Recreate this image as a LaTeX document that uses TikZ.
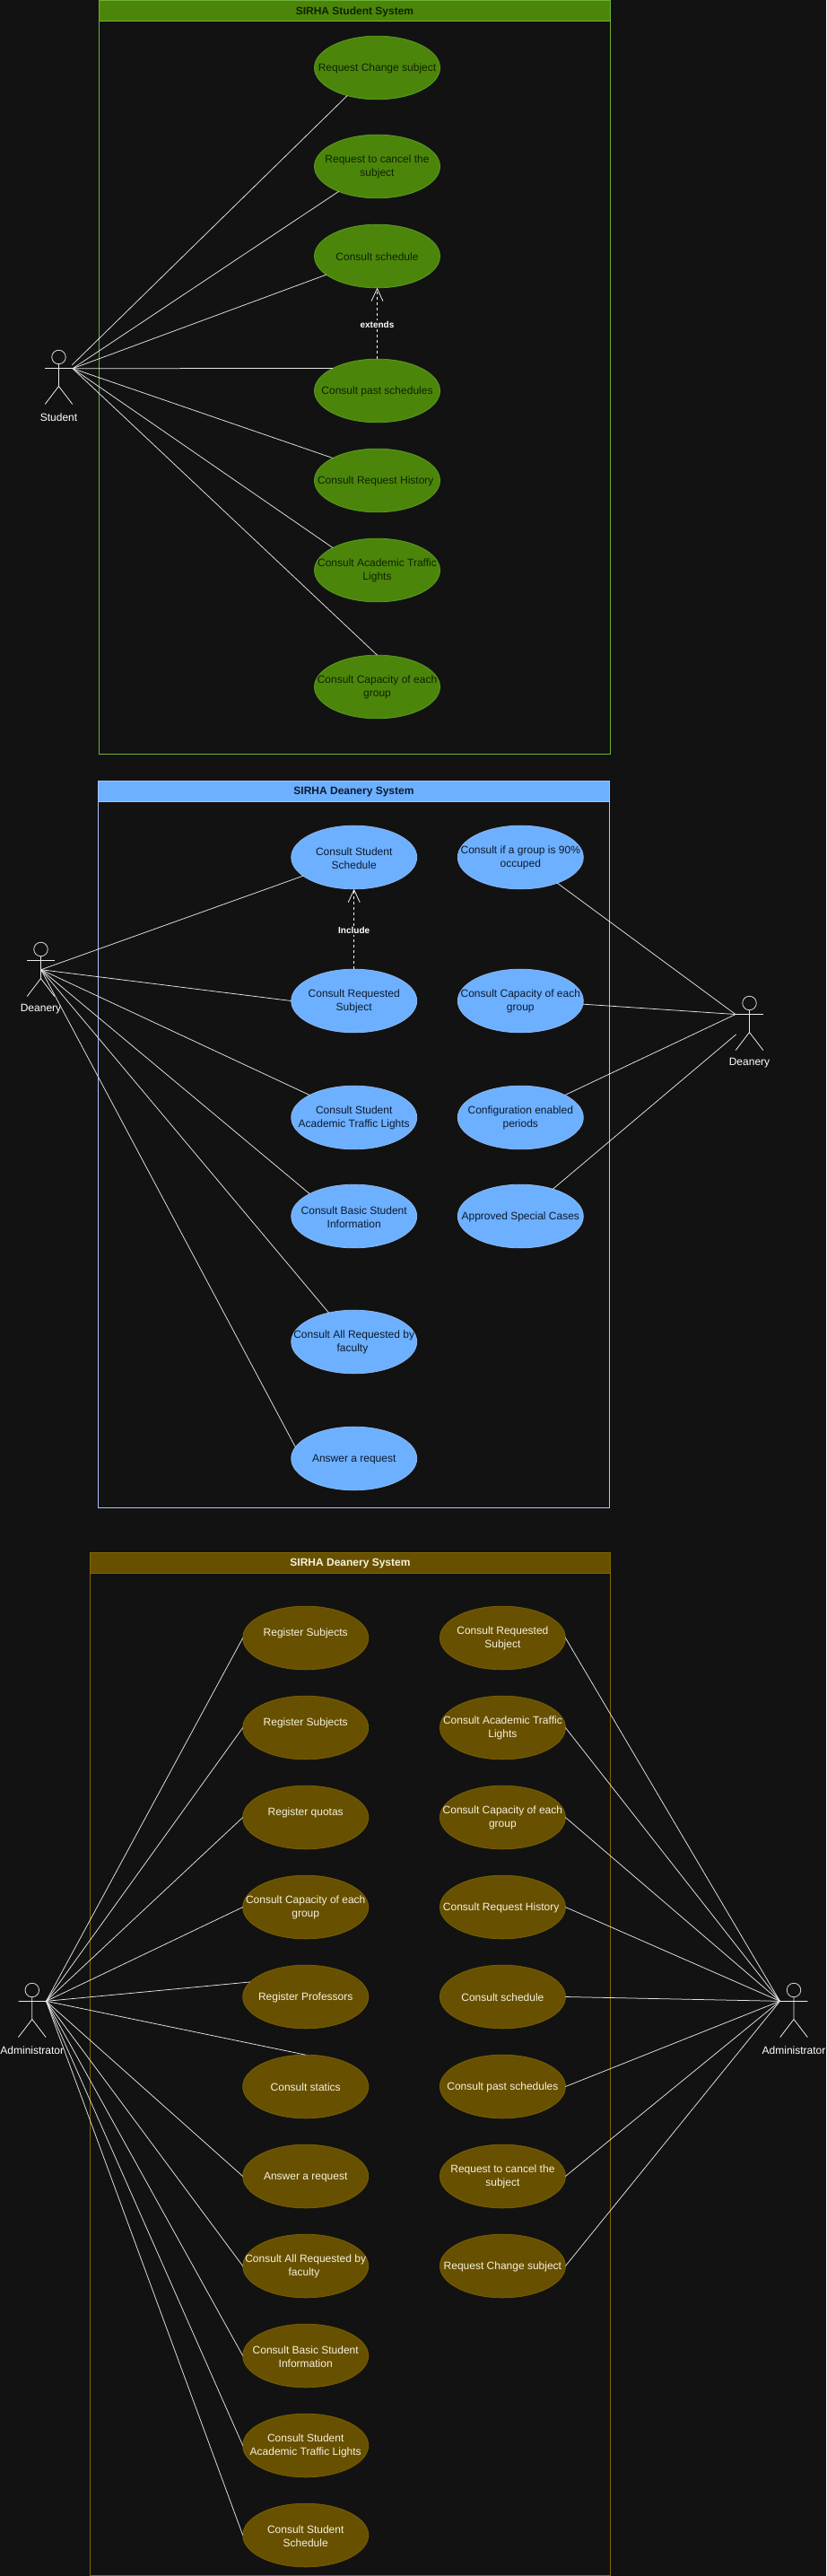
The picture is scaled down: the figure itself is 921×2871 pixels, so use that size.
\documentclass[tikz,border=0pt]{standalone}
\usepackage{fontspec}
\setmainfont{Liberation Sans}
\usetikzlibrary{shapes.geometric,arrows.meta}
\definecolor{bgc}{HTML}{121212}
\definecolor{gfill}{HTML}{4B860B}
\definecolor{gline}{HTML}{6FB13A}
\definecolor{gedge}{HTML}{5C9A22}
\definecolor{gtext}{HTML}{112200}
\definecolor{bfill}{HTML}{6CB0FF}
\definecolor{bline}{HTML}{A6C6FF}
\definecolor{bedge}{HTML}{8CB8F2}
\definecolor{btext}{HTML}{0E1A2E}
\definecolor{yfill}{HTML}{675000}
\definecolor{yline}{HTML}{836700}
\definecolor{yedge}{HTML}{7A6000}
\definecolor{ytext}{HTML}{F7F2DC}
\tikzset{
  x=1pt,y=-1pt,
  every node/.style={font=\fontsize{12}{14.9}\selectfont,inner sep=0pt,outer sep=0pt},
  usecase/.style={ellipse,draw,line width=.8pt,minimum width=140pt,minimum height=70.67pt},
  casetext/.style={align=center,yshift=-.8pt},
  greencase/.style={usecase,fill=gfill,draw=gedge},
  bluecase/.style={usecase,fill=bfill,draw=bedge},
  browncase/.style={usecase,fill=yfill,draw=yedge},
  greenframe/.style={draw=gline,line width=1pt},
  blueframe/.style={draw=bline,line width=1pt},
  brownframe/.style={draw=yline,line width=1pt},
  headtext/.style={font=\bfseries\fontsize{12}{14.9}\selectfont},
  assoc/.style={draw=white!90!black,line width=.75pt},
  dep/.style={draw=white,line width=.8pt,dash pattern=on 3pt off 3pt,-{Straight Barb[length=14pt,width=13pt,line width=.7pt]}},
  deplabel/.style={font=\bfseries\fontsize{10}{12}\selectfont,text=white,fill=bgc,inner ysep=1pt},
  actorline/.style={draw=white!92!black,line width=.8pt},
  actorhead/.style={circle,draw=white!85!black,line width=.8pt,minimum size=15.5pt},
  actorname/.style={text=white},
}
\newcommand{\uc}[6]{% style, name, x, y, text colour, text
  \node[#1,label={[casetext,text=#5]center:{#6}}] (#2) at (#3,#4) {};}
\newcommand{\actorfig}[4]{% name, cx, top, label
  \node[actorhead] (#1head) at (#2,#3+7.5) {};
  \coordinate (#1hip) at (#2,#3+40);
  \coordinate (#1armL) at (#2-15.3,#3+20);
  \coordinate (#1armR) at (#2+15.3,#3+20);
  \coordinate (#1footL) at (#2-15.3,#3+60);
  \coordinate (#1footR) at (#2+15.3,#3+60);
  \draw[actorline] (#1head) -- (#1hip) (#1armL) -- (#1armR) (#1footL) -- (#1hip) -- (#1footR);
  \node[actorname] (#1name) at (#2,#3+74.5) {#4};}
\begin{document}
\begin{tikzpicture}
\useasboundingbox (0,0) rectangle (921,2871);
\fill[bgc] (0,0) rectangle (921,2871);

% ---------- Student ----------
\path[greenframe] (110.3,0.5) rectangle (680.4,840.3);
\path[greenframe,fill=gfill] (110.3,0.5) rectangle (680.4,23.7);
\node[headtext,text=gtext] (t1) at (395.5,13) {SIRHA Student System};
\uc{greencase}{sa}{420.5}{75.5}{gtext}{Request Change subject}
\uc{greencase}{sb}{420.5}{185.5}{gtext}{Request to cancel the\\subject}
\uc{greencase}{sc}{420.5}{285.5}{gtext}{Consult schedule}
\uc{greencase}{sd}{420.5}{435.5}{gtext}{Consult past schedules}
\uc{greencase}{se}{420.5}{535.5}{gtext}{Consult Request History\kern3.5pt}
\uc{greencase}{sf}{420.5}{635.5}{gtext}{Consult Academic Traffic\\Lights}
\uc{greencase}{sg}{420.5}{765.5}{gtext}{Consult Capacity of each\\group}
\actorfig{st}{65.5}{390.5}{Student}
\coordinate (stA) at (81,410.7);
\coordinate (stB) at (80.4,406.7);
\draw[assoc] (stB) -- (sa.223.8);
\draw[assoc] (stA) -- (sb.213);
\draw[assoc] (stA) -- (sc.200.5);
\draw[assoc] (stA) -- (sd.north west);
\draw[assoc] (stA) -- (se.north west);
\draw[assoc] (stA) -- (sf.north west);
\draw[assoc] (stA) -- (sg.north);
\draw[dep] (sd.north) -- node[pos=.485,deplabel] (l1) {extends} (sc.south);

% ---------- Deanery ----------
\path[blueframe] (109.4,870.3) rectangle (679.5,1680.3);
\path[blueframe,fill=bfill] (109.4,870.3) rectangle (679.5,893.7);
\node[headtext,text=btext] (t2) at (394.5,883) {SIRHA Deanery System};
\uc{bluecase}{da}{394.7}{955.5}{btext}{Consult Student\\Schedule}
\uc{bluecase}{db}{394.7}{1115.5}{btext}{Consult Requested\\Subject}
\uc{bluecase}{dc}{394.7}{1245.5}{btext}{Consult Student\\Academic Traffic Lights}
\uc{bluecase}{dd}{394.7}{1355.5}{btext}{Consult Basic Student\\Information}
\uc{bluecase}{de}{394.7}{1495.5}{btext}{Consult All Requested by\\faculty\kern3.5pt}
\uc{bluecase}{df}{394.7}{1625.5}{btext}{Answer a request}
\uc{bluecase}{dg}{580.3}{955.5}{btext}{Consult if a group is 90\%\\occuped}
\uc{bluecase}{dh}{580.3}{1115.5}{btext}{Consult Capacity of each\\group}
\uc{bluecase}{di}{580.3}{1245.5}{btext}{Configuration enabled\\periods}
\uc{bluecase}{dj}{580.3}{1355.5}{btext}{Approved Special Cases}
\actorfig{dl}{45.5}{1050.5}{Deanery}
\actorfig{dr}{835.5}{1110.5}{Deanery}
\coordinate (dlA) at (45.8,1080.7);
\coordinate (drA) at (820,1130.5);
\coordinate (drB) at (820.5,1153);
\draw[assoc] (dlA) -- (da.200.2);
\draw[assoc] (dlA) -- (db.west);
\draw[assoc] (dlA) -- (dc.north west);
\draw[assoc] (dlA) -- (dd.north west);
\draw[assoc] (dlA) -- (de.131.2);
\draw[assoc] (dlA) -- (df.169.2);
\draw[assoc] (drA) -- (dg.-35.4);
\draw[assoc] (drA) -- (dh.-3.7);
\draw[assoc] (drA) -- (di.north east);
\draw[assoc] (drB) -- (dj.40.6);
\draw[dep] (db.north) -- node[pos=.48,deplabel] (l2) {Include} (da.south);

% ---------- Administrator ----------
\path[brownframe] (100.4,1730.3) rectangle (680.2,2870.4);
\path[brownframe,fill=yfill] (100.4,1730.3) rectangle (680.2,1753.6);
\node[headtext,text=ytext] (t3) at (390.5,1743) {SIRHA Deanery System};
\uc{browncase}{aa}{340.7}{1825.5}{ytext}{Register Subjects\\\mbox{}}
\uc{browncase}{ab}{340.7}{1925.5}{ytext}{Register Subjects\\\mbox{}}
\uc{browncase}{ac}{340.7}{2025.5}{ytext}{Register quotas\\\mbox{}}
\uc{browncase}{ad}{340.7}{2125.5}{ytext}{Consult Capacity of each\\group}
\uc{browncase}{ae}{340.7}{2225.5}{ytext}{Register Professors}
\uc{browncase}{af}{340.7}{2325.5}{ytext}{Consult statics}
\uc{browncase}{ag}{340.7}{2425.5}{ytext}{Answer a request}
\uc{browncase}{ah}{340.7}{2525.5}{ytext}{Consult All Requested by\\faculty\kern3.5pt}
\uc{browncase}{ai}{340.7}{2625.5}{ytext}{Consult Basic Student\\Information}
\uc{browncase}{aj}{340.7}{2725.5}{ytext}{Consult Student\\Academic Traffic Lights}
\uc{browncase}{ak}{340.7}{2825.5}{ytext}{Consult Student\\Schedule}
\uc{browncase}{ba}{560.4}{1825.5}{ytext}{Consult Requested\\Subject}
\uc{browncase}{bb}{560.4}{1925.5}{ytext}{Consult Academic Traffic\\Lights}
\uc{browncase}{bc}{560.4}{2025.5}{ytext}{Consult Capacity of each\\group}
\uc{browncase}{bd}{560.4}{2125.5}{ytext}{Consult Request History\kern3.5pt}
\uc{browncase}{be}{560.4}{2225.5}{ytext}{Consult schedule}
\uc{browncase}{bf}{560.4}{2325.5}{ytext}{Consult past schedules}
\uc{browncase}{bg}{560.4}{2425.5}{ytext}{Request to cancel the\\subject}
\uc{browncase}{bh}{560.4}{2525.5}{ytext}{Request Change subject}
\actorfig{al}{35.8}{2210.5}{Administrator}
\actorfig{ar}{885}{2210.5}{Administrator}
\coordinate (alA) at (51.5,2230.3);
\coordinate (arA) at (869.5,2230.3);
\foreach \t in {aa,ab,ac,ad,ag,ah,ai,aj,ak}{\draw[assoc] (alA) -- (\t.west);}
\draw[assoc] (alA) -- (ae.165.9);
\draw[assoc] (alA) -- (af.north);
\foreach \t in {ba,bb,bc,bd,be,bf,bg,bh}{\draw[assoc] (arA) -- (\t.east);}
\end{tikzpicture}
\end{document}
